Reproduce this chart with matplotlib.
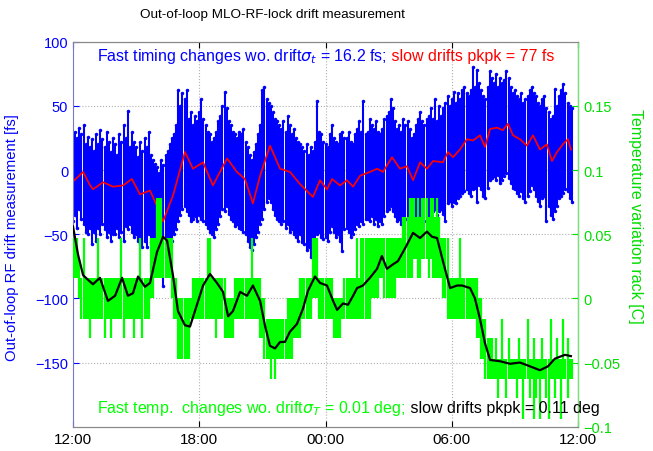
import numpy as np
import matplotlib.pyplot as plt

plt.rcParams['font.family'] = ['Liberation Sans', 'DejaVu Sans']
plt.rcParams['mathtext.fontset'] = 'dejavusans'

# fast timing samples [fs]: max and min inside each 6 minute bin, from 12:00
blue_max = [
    22, 30, 25, 33, 28, 35, 20, 26, 18, 24,
    15, 28, 20, 31, 24, 18, 30, 22, 14, 25,
    20, 12, 28, 22, 35, 25, 46, 18, 30, 22,
    18, 10, 22, 15, 25, 18, 30, 12, 8, 5,
    2, -2, 8, 4, 12, 15, 20, 25, 28, 35,
    62, 50, 60, 55, 62, 40, 45, 35, 42, 38,
    45, 55, 40, 35, 30, 28, 22, 25, 30, 38,
    42, 50, 61, 48, 38, 35, 30, 28, 25, 30,
    28, 32, 22, 18, 12, 8, 14, 20, 28, 35,
    62, 65, 55, 52, 50, 45, 40, 38, 35, 32,
    38, 30, 42, 35, 28, 32, 25, 22, 20, 18,
    15, 20, 12, 18, 15, 22, 54, 30, 28, 22,
    20, 18, 28, 35, 25, 22, 20, 28, 30, 25,
    25, 30, 22, 20, 28, 32, 38, 30, 54, 28,
    30, 40, 35, 32, 38, 30, 28, 32, 40, 42,
    45, 55, 48, 38, 32, 35, 30, 40, 35, 38,
    32, 25, 28, 35, 40, 45, 38, 35, 40, 42,
    48, 40, 55, 38, 50, 42, 48, 52, 58, 50,
    55, 61, 52, 60, 55, 62, 65, 60, 58, 62,
    80, 65, 78, 68, 62, 58, 55, 65, 77, 72,
    68, 75, 65, 72, 68, 70, 77, 72, 65, 60,
    62, 58, 55, 60, 52, 55, 58, 62, 65, 60,
    58, 52, 50, 55, 58, 48, 45, 40, 42, 63,
    50, 58, 62, 67, 60, 52, 50, 48,
]
blue_min = [
    -40, -35, -45, -30, -38, -42, -48, -50, -45, -58,
    -48, -55, -45, -50, -42, -46, -52, -48, -55, -50,
    -50, -45, -52, -48, -55, -44, -46, -42, -48, -52,
    -50, -55, -58, -60, -55, -60, -50, -56, -62, -64,
    -62, -81, -70, -90, -68, -60, -58, -55, -50, -46,
    -40, -35, -30, -28, -32, -35, -40, -38, -36, -40,
    -35, -38, -40, -42, -45, -48, -50, -52, -46, -42,
    -36, -30, -32, -28, -34, -38, -40, -44, -42, -45,
    -46, -48, -50, -55, -60, -62, -58, -52, -48, -42,
    -38, -30, -25, -22, -25, -30, -35, -38, -40, -42,
    -40, -45, -42, -48, -46, -50, -52, -55, -50, -56,
    -58, -62, -60, -68, -58, -55, -50, -48, -52, -54,
    -52, -55, -48, -44, -48, -52, -50, -55, -63, -46,
    -45, -48, -52, -50, -46, -42, -44, -40, -42, -38,
    -38, -40, -36, -42, -38, -44, -40, -42, -36, -32,
    -30, -28, -32, -36, -40, -38, -42, -36, -38, -40,
    -42, -46, -48, -42, -38, -35, -38, -40, -36, -38,
    -34, -32, -30, -35, -32, -30, -34, -40, -26, -24,
    -28, -25, -26, -22, -20, -18, -16, -15, -18, -20,
    -15, -14, -25, -12, -15, -20, -22, -14, -8, -6,
    -5, -8, -4, -10, -8, -5, -2, -6, -10, -14,
    -15, -18, -20, -16, -22, -25, -20, -16, -12, -15,
    -20, -24, -28, -22, -20, -40, -28, -35, -38, -32,
    -28, -22, -20, -18, -15, -16, -22, -25,
]

# slow timing drift [fs]
red_h = [0.0, 0.48, 0.81, 0.95, 1.43, 1.90, 2.38, 2.80, 3.18, 3.66, 3.99,
         4.28, 4.75, 5.32, 5.70, 6.18, 6.65, 7.32, 7.79, 8.17, 8.55, 8.89,
         9.36, 9.84, 10.31, 10.79, 11.40, 11.74, 12.07, 12.31, 12.69, 13.02,
         13.31, 13.64, 14.11, 14.45, 14.73, 15.16, 15.54, 15.87, 16.16,
         16.49, 16.82, 17.11, 17.58, 17.82, 18.06, 18.39, 18.72, 19.01,
         19.34, 19.58, 19.82, 20.15, 20.43, 20.67, 20.91, 21.24, 21.57,
         21.86, 22.19, 22.52, 22.76, 23.00, 23.28, 23.52, 23.66]
red_fs = [-9, -1.5, -12, -15, -9.5, -13, -12, -7, -19, -16, -28,
          -40, -20, 14, 1, 6, -12, 9, -1.5, -7, -26, -4.5,
          19, 1, -1.5, -11, -21, -8, -15, -7, -12, -8,
          -13, -4.5, -1.5, 1, -1.5, 10, 1, 3, -8,
          6, 1, 7, 6, 14, 10, 16, 24, 23,
          27, 18, 32, 33, 31, 36, 27, 24, 19,
          27, 16, 20, 7, 14, 20, 24, 16]

# rack temperature readout [C]: max and min in the same 6 minute bins
green_max = [
    .047, .047, .047, .031, .016, .047, .016, .016, .016, .016,
    .016, .016, .047, .016, .016, .016, .016, .016, .016, .016,
    .016, .016, .016, .047, .016, .016, .016, .016, .016, .016,
    .016, .016, .047, .016, .016, .016, .016, .047, .047, .047,
    .078, .078, .078, .047, .047, .047, .047, .047, .016, .016,
    0, 0, 0, 0, 0, 0, 0, .016, .016, .016,
    .016, .016, .016, .016, .047, .047, .016, .016, .016, .016,
    .016, .016, .016, 0, 0, 0, 0, .016, .016, .016,
    .016, .016, .016, .016, .016, .047, .016, .016, .016, .016,
    0, 0, -.016, -.016, -.016, -.016, -.016, -.016, -.016, -.016,
    -.016, -.016, 0, 0, 0, 0, 0, 0, .016, .016,
    .016, .016, .016, .016, .047, .047, .047, .016, .016, .016,
    .016, .016, .016, .016, 0, 0, 0, 0, 0, .016,
    .016, .016, .016, .016, .016, .047, .016, .047, .047, .047,
    .047, .047, .047, .047, .047, .047, .047, .047, .047, .047,
    .047, .047, .047, .047, .047, .047, .047, .063, .063, .063,
    .078, .078, .078, .063, .078, .063, .078, .078, .078, .063,
    .078, .078, .063, .078, .063, .047, .047, .047, .047, .016,
    .016, .016, .016, .016, .047, .016, .016, .016, .016, .016,
    .016, .016, .016, 0, 0, -.016, -.016, -.031, -.031, -.031,
    -.047, -.031, -.047, -.047, -.016, -.047, -.047, -.031, -.047, -.047,
    -.047, -.047, -.031, -.047, -.047, -.047, -.016, -.047, -.047, -.031,
    -.047, -.047, -.047, -.031, -.047, -.047, -.047, -.016, -.047, -.047,
    -.031, -.047, -.047, -.016, -.047, -.031, -.047, -.047,
]
green_min = [
    .016, .016, .016, 0, -.016, -.016, -.016, -.016, -.031, -.016,
    -.016, -.016, -.016, -.016, -.016, -.031, -.016, -.016, -.031, -.016,
    -.016, -.016, -.016, -.016, -.031, -.016, -.016, -.016, -.016, -.031,
    -.016, -.016, -.016, -.031, -.016, -.016, -.016, 0, 0, .016,
    .016, .016, .016, .016, .016, .016, .016, 0, -.016, -.016,
    -.047, -.047, -.047, -.047, -.047, -.047, -.016, -.016, -.016, -.016,
    -.016, -.016, -.016, -.016, -.016, -.016, -.016, -.016, -.031, -.016,
    -.016, -.016, -.031, -.031, -.031, -.031, -.031, -.016, -.016, -.016,
    -.016, -.016, -.016, -.016, -.016, -.016, -.016, -.016, -.016, -.031,
    -.031, -.047, -.047, -.047, -.063, -.047, -.063, -.047, -.047, -.047,
    -.047, -.047, -.047, -.047, -.047, -.031, -.031, -.031, -.031, -.016,
    -.016, -.016, -.016, -.016, 0, 0, 0, -.016, -.016, -.016,
    -.016, -.016, -.016, -.016, -.031, -.031, -.031, -.031, -.016, -.016,
    -.016, -.016, -.016, -.016, -.016, -.016, -.016, -.016, -.016, -.016,
    -.016, -.016, 0, 0, 0, 0, .016, .016, 0, 0,
    0, 0, 0, 0, .016, .016, .016, .016, .016, .016,
    .016, .016, .031, .031, .016, .016, .031, .031, .031, .016,
    .031, .016, .016, .016, .016, .016, 0, 0, -.016, -.016,
    -.016, -.016, -.016, -.016, -.016, -.016, -.016, -.016, -.016, -.016,
    -.016, -.016, -.031, -.031, -.047, -.047, -.063, -.063, -.063, -.063,
    -.063, -.063, -.078, -.063, -.063, -.063, -.078, -.063, -.063, -.063,
    -.063, -.078, -.063, -.063, -.094, -.063, -.063, -.078, -.063, -.094,
    -.078, -.063, -.094, -.063, -.063, -.078, -.094, -.063, -.063, -.078,
    -.063, -.063, -.094, -.063, -.063, -.078, -.063, -.063,
]

# slow temperature drift [C]
black_h = [0.0, 0.24, 0.48, 0.81, 0.95, 1.28, 1.66, 2.0, 2.33, 2.61, 2.85,
           3.09, 3.42, 3.66, 3.99, 4.28, 4.47, 4.75, 4.99, 5.32, 5.56, 5.89,
           6.18, 6.51, 6.84, 7.13, 7.37, 7.60, 7.94, 8.27, 8.55, 8.89, 9.12,
           9.36, 9.60, 9.84, 10.07, 10.31, 10.64, 10.93, 11.17, 11.50, 11.74,
           12.07, 12.36, 12.55, 12.83, 13.07, 13.31, 13.50, 13.78, 14.11,
           14.45, 14.68, 14.92, 15.16, 15.44, 15.78, 16.16, 16.49, 16.82,
           17.06, 17.30, 17.58, 17.92, 18.25, 18.49, 18.87, 19.10, 19.34,
           19.58, 19.82, 20.29, 20.77, 21.24, 21.72, 22.19, 22.57, 22.90,
           23.38, 23.66]
black_C = [0.056, 0.034, 0.018, 0.013, 0.011, 0.016, -0.002, 0.002, 0.016, 0.002, 0.004,
           0.017, 0.009, 0.012, 0.036, 0.048, 0.045, 0.018, -0.010, -0.021, -0.022, -0.005,
           0.010, 0.019, 0.012, 0.005, -0.014, -0.010, 0.005, 0.002, 0.010, -0.002, -0.021,
           -0.037, -0.039, -0.034, -0.034, -0.026, -0.020, -0.008, 0.006, 0.017, 0.012,
           0.010, -0.002, -0.009, -0.004, -0.005, 0.002, 0.008, 0.010, 0.016,
           0.023, 0.033, 0.023, 0.026, 0.029, 0.039, 0.051, 0.047, 0.052,
           0.048, 0.047, 0.029, 0.008, 0.010, 0.010, 0.008, 0.000, -0.016,
           -0.035, -0.048, -0.049, -0.051, -0.050, -0.053, -0.056, -0.053, -0.047,
           -0.044, -0.045]

t_fast = np.arange(len(blue_max)) / 10.0

blue = '#0000ff'
green = '#00ff00'
green_txt = '#00dd00'

fig = plt.figure(figsize=(6.53, 4.52), dpi=100)
ax = fig.add_axes([0.1118, 0.0538, 0.7734, 0.8518])

# min/max bars of the fast samples, with the extreme points marked
ax.vlines(t_fast, blue_min, blue_max, color=blue, lw=1.5)
ax.plot(t_fast, blue_max, '.', color=blue, ms=3)
ax.plot(t_fast, blue_min, '.', color=blue, ms=3)
ax.plot(red_h, red_fs, color='#ff0000', lw=1.25)
ax.set_xlim(0, 24)
ax.set_ylim(-200, 100)
ax.set_yticks([-150, -100, -50, 0, 50, 100])
ax.set_xticks([0, 6, 12, 18, 24])
ax.set_xticklabels(['12:00', '18:00', '00:00', '06:00', '12:00'])
ax.grid(True, color='#b0b0b0', linestyle=':', lw=0.8)
ax.tick_params(axis='y', colors=blue, direction='in', length=4, labelsize=10.5)
ax.tick_params(axis='x', direction='in', length=4, labelsize=11, top=True)
ax.spines['left'].set_color('#7777cc')
for s in ['top', 'bottom']:
    ax.spines[s].set_color('#888888')

ax2 = ax.twinx()
ax2.vlines(t_fast, green_min, green_max, color=green, lw=1.6)
ax2.plot(black_h, black_C, color='k', lw=1.6)
ax2.set_ylim(-0.1, 0.2)
ax2.set_yticks([-0.1, -0.05, 0, 0.05, 0.1, 0.15])
ax2.set_yticklabels(['\u22120.1', '\u22120.05', '0', '0.05', '0.1', '0.15'])
ax2.tick_params(axis='y', colors=green_txt, direction='in', length=4, labelsize=10.5)
ax2.spines['right'].set_color('#66ee66')
ax2.spines['left'].set_visible(False)
for s in ['top', 'bottom']:
    ax2.spines[s].set_color('#888888')

# two-colour annotations: second part starts where the first one ends
t1 = ax2.text(0.048, 0.952, r'Fast timing changes wo. drift$\sigma_t$ = 16.2 fs;',
              transform=ax2.transAxes, color=blue, fontsize=11.5, va='baseline')
t2 = ax2.text(0.048, 0.038, r'Fast temp.  changes wo. drift$\sigma_T$ = 0.01 deg;',
              transform=ax2.transAxes, color=green, fontsize=11.5, va='baseline')
fig.canvas.draw()
inv = ax2.transAxes.inverted()
x1 = inv.transform(t1.get_window_extent().p1)[0]
x2 = inv.transform(t2.get_window_extent().p1)[0]
ax2.text(x1, 0.952, ' slow drifts pkpk = 77 fs', transform=ax2.transAxes,
         color='#ff0000', fontsize=11.5, va='baseline')
ax2.text(x2, 0.038, ' slow drifts pkpk = 0.11 deg', transform=ax2.transAxes,
         color='k', fontsize=11.5, va='baseline')

fig.text(272 / 653, 1 - 15 / 452, 'Out-of-loop MLO-RF-lock drift measurement',
         ha='center', va='center', fontsize=9.7)
fig.text(12 / 653, 1 - 238 / 452, 'Out-of-loop RF drift measurement [fs]',
         rotation=90, ha='center', va='center', color=blue, fontsize=10.7)
fig.text(636 / 653, 1 - 216 / 452, 'Temperature variation rack [C]',
         rotation=-90, ha='center', va='center', color=green_txt, fontsize=11.5)

fig.savefig('out.png', dpi=100)
